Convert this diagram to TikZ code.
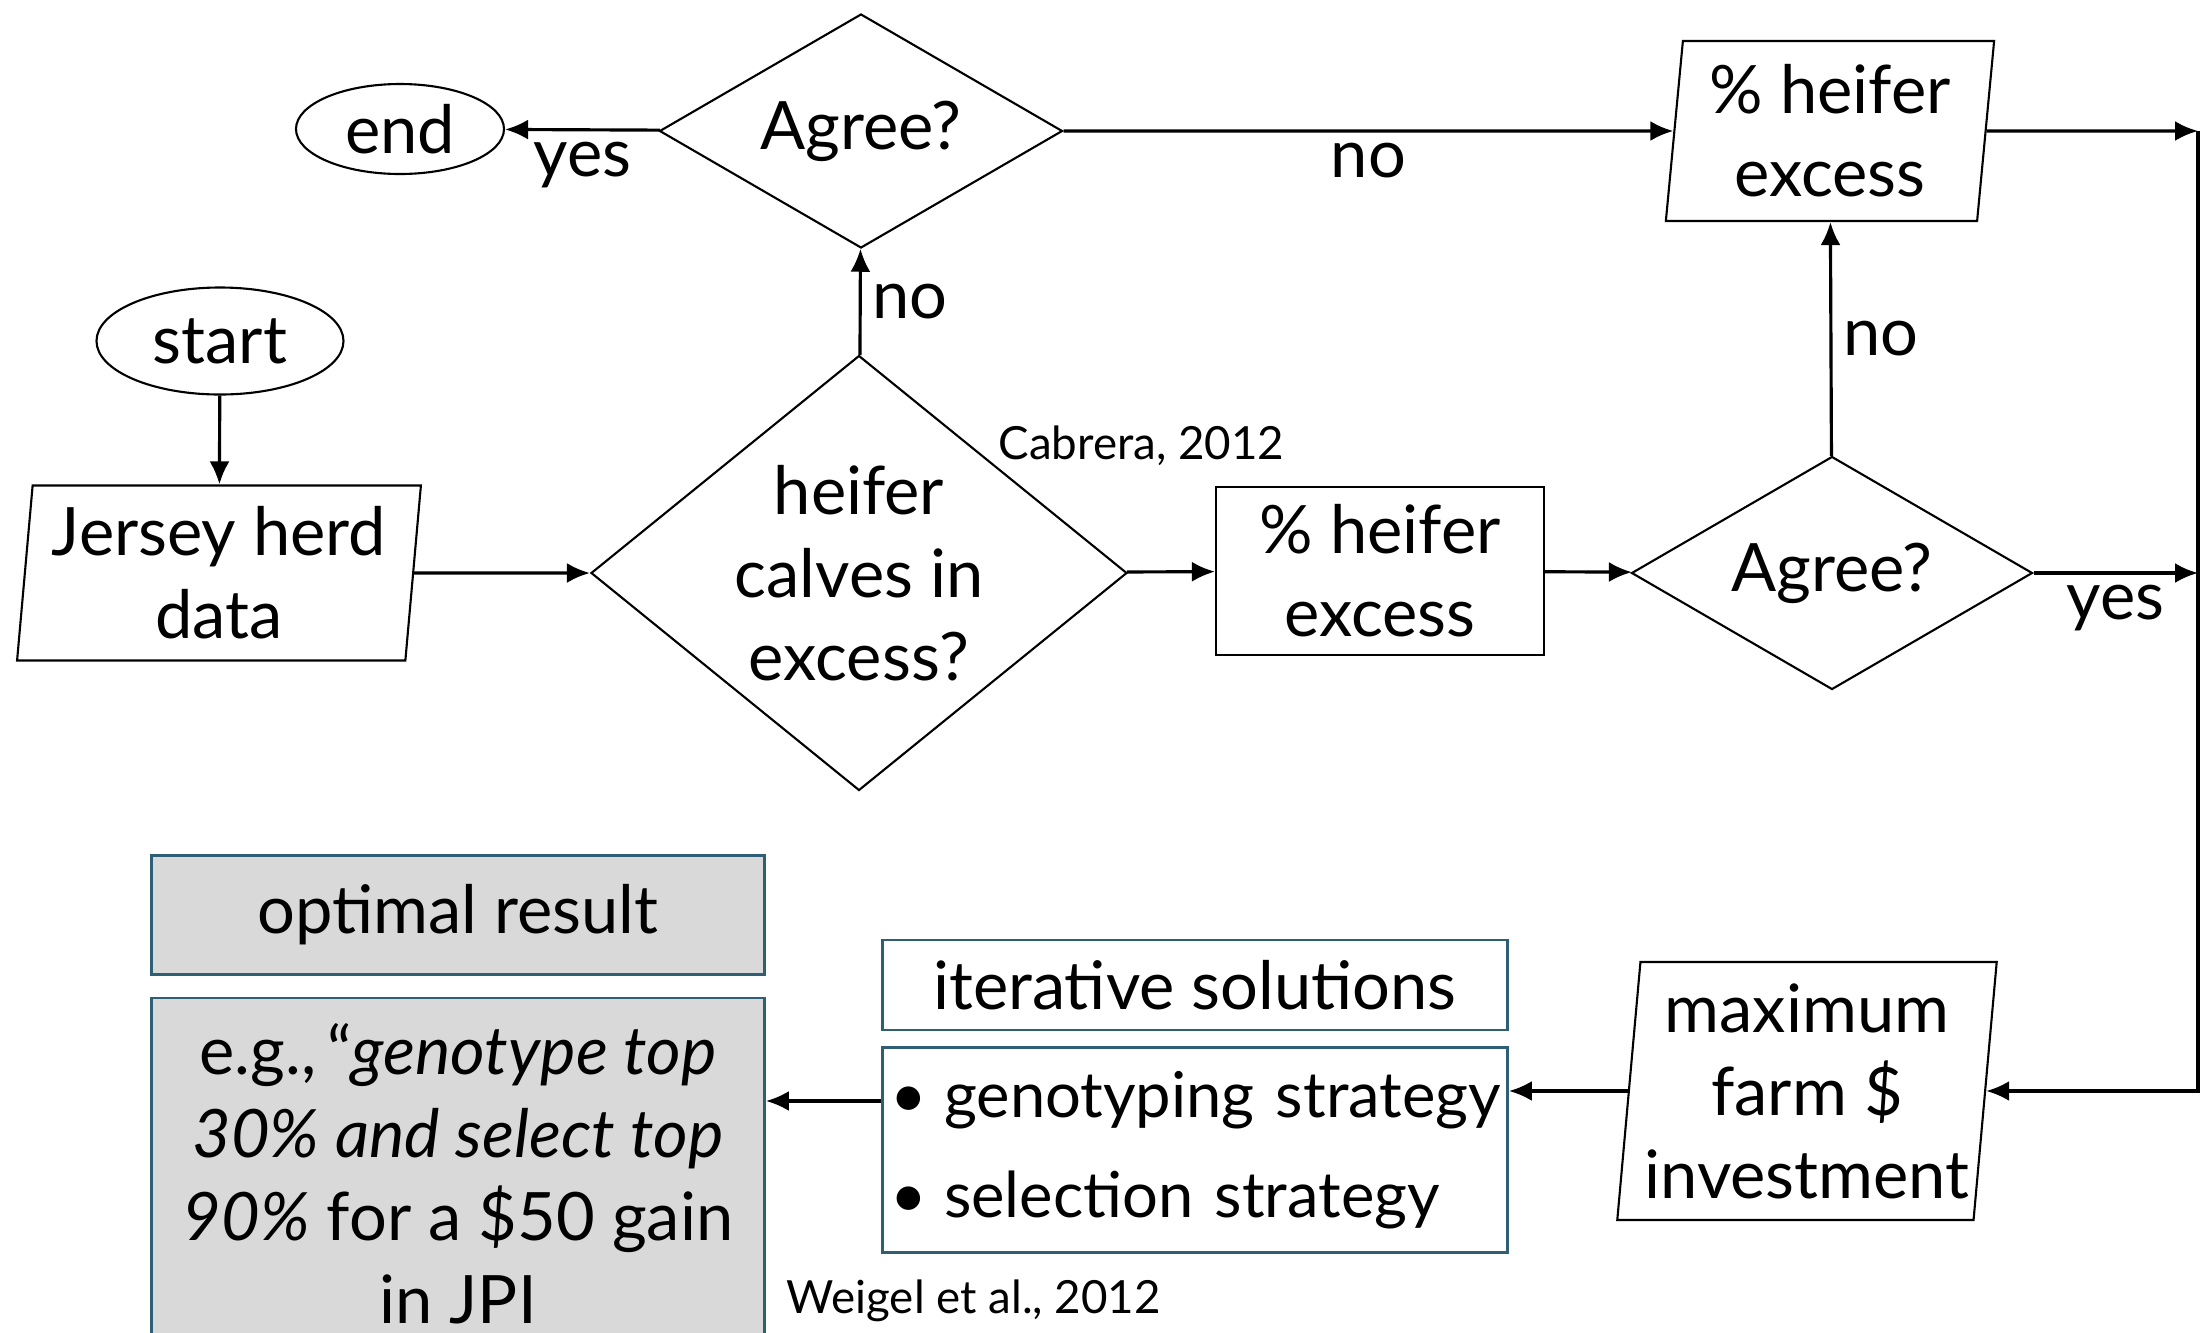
\documentclass[tikz,border=0pt]{standalone}
\usepackage{fontspec}
\setmainfont{Lato}
\usetikzlibrary{arrows.meta,positioning,shapes.geometric}
\definecolor{boxedge}{HTML}{2F5F74}
\definecolor{boxgray}{HTML}{D9D9D9}

\begin{document}
\begin{tikzpicture}[
  every node/.style={font=\fontsize{19}{23.6}\selectfont},
  term/.style={draw, ellipse, inner sep=0pt, line width=0.6pt},
  data/.style={draw, trapezium, trapezium left angle=84, trapezium right angle=96, trapezium stretches=true, align=center, inner sep=0pt, line width=0.6pt},
  decide/.style={draw, diamond, align=center, inner sep=0pt, line width=0.6pt},
  proc/.style={draw, rectangle, align=center, inner sep=0pt, line width=0.6pt},
  result/.style={draw=boxedge, fill=boxgray, align=center, inner sep=0pt, line width=0.8pt},
  solve/.style={draw=boxedge, fill=white, inner sep=0pt, line width=0.8pt},
  arrow/.style={-{Latex[length=2.3mm, width=2mm]}, line width=0.9pt},
  lbl/.style={inner sep=3pt},
  note/.style={font=\fontsize{13}{15}\selectfont, inner sep=0pt}
]
\useasboundingbox (0,0) rectangle (22.01,-13.33);

% top row
\node[term, minimum width=2.08cm, minimum height=0.90cm] (end) at (4.00,-1.29) {end};
\node[decide, shape aspect=1.72, minimum width=4.03cm, minimum height=2.34cm] (agreetop) at (8.61,-1.31) {Agree?};
\node[data, minimum width=3.30cm, minimum height=1.80cm] (excesstop) at (18.30,-1.31) {\% heifer\\excess};

% middle row
\node[term, minimum width=2.47cm, minimum height=1.07cm] (start) at (2.20,-3.41) {start};
\node[data, minimum width=4.04cm, minimum height=1.75cm] (herd) at (2.19,-5.73) {Jersey herd\\data};
\node[decide, shape aspect=1.23, minimum width=5.36cm, minimum height=4.35cm] (calves) at (8.59,-5.73) {heifer\\calves in\\excess?};
\node[proc, minimum width=3.28cm, minimum height=1.68cm] (excess) at (13.80,-5.71) {\% heifer\\excess};
\node[decide, shape aspect=1.72, minimum width=4.01cm, minimum height=2.33cm] (agreeright) at (18.32,-5.73) {Agree?};
\node[note, anchor=west] (cabrera) at (9.98,-4.46) {Cabrera, 2012};

% bottom row
\node[data, minimum width=3.80cm, minimum height=2.58cm] (invest) at (18.07,-10.91) {maximum\\farm \$\\investment};
\node[solve, minimum width=6.25cm, minimum height=0.90cm, align=center] (iterative) at (11.95,-9.85) {iterative solutions};
\node[solve, minimum height=2.05cm, text width=6.09cm, inner xsep=0.08cm, align=left,
  font=\fontsize{18}{28.5}\selectfont] (strategy) at (11.95,-11.50)
  {\mbox{\textbullet\hspace{0.17cm}genotyping strategy}\\\mbox{\textbullet\hspace{0.17cm}selection strategy}};
\node[result, minimum width=6.13cm, minimum height=1.19cm] (optimal) at (4.58,-9.15) {optimal result};
\node[result, minimum width=6.13cm, minimum height=3.52cm] (example) at (4.58,-11.74)
  {e.g.,\,``\textit{genotype top}\\\textit{30\% and select top}\\\textit{90\%} for a \$50 gain\\in JPI};
\node[note, anchor=west] (weigel) at (7.86,-13.01) {Weigel et al., 2012};

\coordinate (edgetop) at (21.98,-1.31);
\coordinate (edgemid) at (21.98,-5.73);

\draw[arrow] (start) -- (herd);
\draw[arrow] (herd) -- (calves);
\draw[arrow] (calves) -- (excess);
\draw[arrow] (excess) -- (agreeright);
\draw[arrow] (calves) -- node[lbl, right] {no} (agreetop);
\draw[arrow] (agreetop) -- node[lbl, below] {yes} (end);
\draw[arrow] (agreetop) -- node[lbl, below] {no} (excesstop);
\draw[arrow] (agreeright) -- node[lbl, right] {no} (excesstop);
\draw[arrow] (excesstop) -- (edgetop);
\draw[arrow] (agreeright) -- node[lbl, below] {yes} (edgemid);
\draw[arrow] (edgetop) |- (invest.east);
\draw[arrow] (invest.west) -- (invest.west -| strategy.east);
\draw[arrow] ([yshift=-0.1cm]invest.west -| strategy.west) -- ([yshift=-0.1cm]invest.west -| example.east);
\end{tikzpicture}
\end{document}
